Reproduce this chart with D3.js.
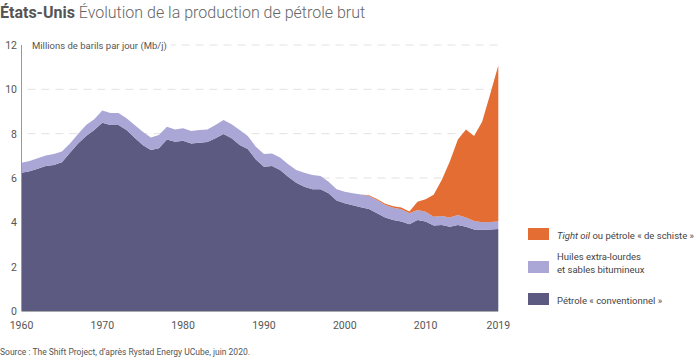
<!DOCTYPE html>
<html><head><meta charset="utf-8">
<script src="https://cdn.jsdelivr.net/npm/d3@7"></script>
<style>body{margin:0;background:#fff;} svg{display:block;font-family:Roboto, "Noto Sans", sans-serif;}</style>
</head><body><svg id="c" width="700" height="359"></svg>
<script>
const years = d3.range(1960, 2020);
const conventional = [6.24,6.30,6.42,6.54,6.59,6.71,7.14,7.56,7.89,8.16,8.49,8.39,8.39,8.16,7.82,7.49,7.26,7.34,7.74,7.64,7.68,7.56,7.59,7.62,7.79,7.98,7.79,7.49,7.31,6.84,6.51,6.54,6.36,6.06,5.79,5.61,5.49,5.49,5.31,4.98,4.86,4.77,4.68,4.60,4.41,4.22,4.10,4.04,3.91,4.10,4.04,3.86,3.88,3.80,3.88,3.80,3.68,3.67,3.68,3.70];
const heavy = [0.45,0.47,0.47,0.47,0.49,0.49,0.42,0.42,0.50,0.49,0.55,0.54,0.54,0.53,0.57,0.60,0.57,0.60,0.57,0.55,0.56,0.56,0.57,0.57,0.60,0.64,0.63,0.67,0.58,0.57,0.57,0.57,0.56,0.56,0.57,0.63,0.64,0.60,0.52,0.51,0.52,0.54,0.58,0.59,0.60,0.56,0.56,0.55,0.50,0.46,0.44,0.39,0.41,0.42,0.45,0.42,0.38,0.33,0.33,0.34];
const tight = [0,0,0,0,0,0,0,0,0,0,0,0,0,0,0,0,0,0,0,0,0,0,0,0,0,0,0,0,0,0,0,0,0,0,0,0,0,0,0,0,0,0,0,0.03,0.04,0.06,0.07,0.08,0.08,0.37,0.56,1.0,1.62,2.52,3.41,3.97,3.83,4.54,5.78,7.04];
const yTicks = [0,2,4,6,8,10,12];
const xTicks = [1960,1970,1980,1990,2000,2010,2019];
const seriesKeys = ["conventional","heavy","tight"];
const colors = {conventional:"#5c5a80", heavy:"#aaa6d6", tight:"#e36d33"};

const table = years.map((y,i)=>({year:y, conventional:conventional[i], heavy:heavy[i], tight:tight[i]}));
const svg = d3.select("#c");
const x = d3.scaleLinear().domain([1960,2019]).range([21.5,498.3]);
const y = d3.scaleLinear().domain([0,12]).range([311,45]);

// title
const t = svg.append("text").attr("x",0).attr("y",17.5).attr("font-size",16).attr("fill","#555");
t.append("tspan").attr("font-weight",700).text("États-Unis");
t.append("tspan").attr("font-weight",300).attr("fill","#666").text(" Évolution de la production de pétrole brut");

// grid
svg.append("g").selectAll("line").data(yTicks.filter(d=>d>0)).join("line")
  .attr("x1",x(1960)+6).attr("x2",x(2019)).attr("y1",d=>y(d)).attr("y2",d=>y(d))
  .attr("stroke","#e2e2e2").attr("stroke-width",1).attr("stroke-dasharray","8,6");

// areas
const stack = d3.stack().keys(seriesKeys)(table);
const area = d3.area().x(d=>x(d.data.year)).y0(d=>y(d[0])).y1(d=>y(d[1]));
svg.append("g").selectAll("path").data(stack).join("path")
  .attr("d",area).attr("fill",d=>colors[d.key]);

// y axis label with white background
const lbl = svg.append("text").attr("x",32).attr("y",49).attr("font-size",9.5).attr("fill","#555")
  .text("Millions de barils par jour (Mb/j)");
const bb = lbl.node().getBBox();
svg.insert("rect","text:last-of-type").attr("x",bb.x-4).attr("y",bb.y).attr("width",bb.width+8).attr("height",bb.height).attr("fill","#fff");
lbl.raise();

// axes lines
svg.append("line").attr("x1",x(1960)).attr("x2",x(1960)).attr("y1",y(12)).attr("y2",y(0)).attr("stroke","#999");
svg.append("line").attr("x1",x(1960)).attr("x2",x(2019)).attr("y1",y(0)+0.5).attr("y2",y(0)+0.5).attr("stroke","#aaa");

// y ticks
svg.append("g").selectAll("text").data(yTicks).join("text")
  .attr("x",17).attr("y",d=>y(d)+4).attr("text-anchor","end").attr("font-size",10.5).attr("fill","#555").text(d=>d);
// x ticks
svg.append("g").selectAll("text").data(xTicks).join("text")
  .attr("x",d=>x(d)).attr("y",329).attr("text-anchor","middle").attr("font-size",10.5).attr("fill","#555").text(d=>d);

// legend
const lg = svg.append("g");
lg.append("rect").attr("x",528).attr("y",228).attr("width",21).attr("height",12).attr("fill",colors.tight);
const l1 = lg.append("text").attr("x",557).attr("y",238.5).attr("font-size",9.5).attr("fill","#444");
l1.append("tspan").attr("font-style","italic").text("Tight oil");
l1.append("tspan").text(" ou pétrole « de schiste »");
lg.append("rect").attr("x",528).attr("y",261).attr("width",21).attr("height",12).attr("fill",colors.heavy);
lg.append("text").attr("x",557).attr("y",260).attr("font-size",9.5).attr("fill","#444").text("Huiles extra-lourdes");
lg.append("text").attr("x",557).attr("y",273).attr("font-size",9.5).attr("fill","#444").text("et sables bitumineux");
lg.append("rect").attr("x",528).attr("y",293).attr("width",21).attr("height",12).attr("fill",colors.conventional);
lg.append("text").attr("x",557).attr("y",303.5).attr("font-size",9.5).attr("fill","#444").text("Pétrole « conventionnel »");

// source
svg.append("text").attr("x",0).attr("y",355).attr("font-size",8.5).attr("fill","#555")
  .text("Source : The Shift Project, d’après Rystad Energy UCube, juin 2020.");
</script></body></html>
